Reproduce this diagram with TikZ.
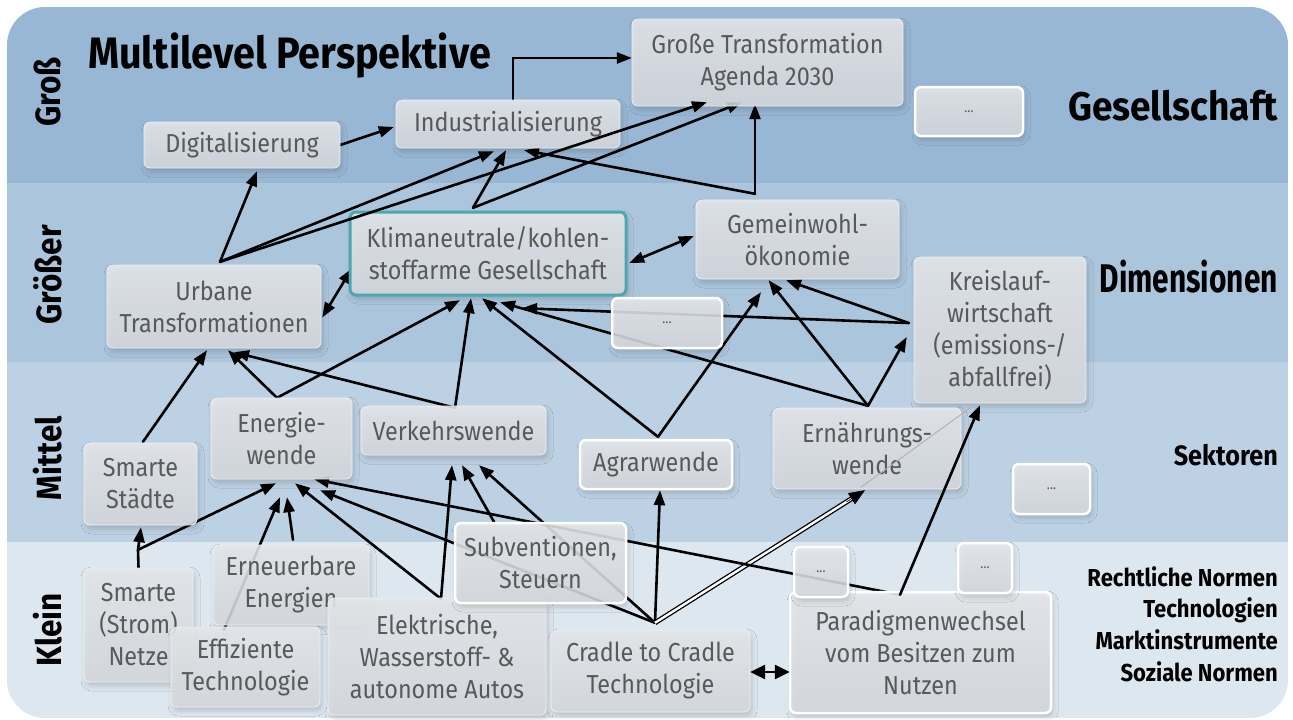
\documentclass[tikz,border=0pt]{standalone}
\usepackage{fontspec}
\usepackage{graphicx}
\setmainfont{Fira Sans}[FakeStretch=0.9]
\usetikzlibrary{arrows.meta,calc,shadows.blur}
\definecolor{bandA}{HTML}{98B7D4}
\definecolor{bandB}{HTML}{AAC5DC}
\definecolor{bandC}{HTML}{BCD1E3}
\definecolor{bandD}{HTML}{DDE7F0}
\definecolor{boxtop}{HTML}{E6E8EB}
\definecolor{boxbot}{HTML}{D6D9DE}
\definecolor{boxtext}{HTML}{595959}
\definecolor{boxline}{HTML}{EEF0F2}
\definecolor{tealb}{HTML}{4EA6AE}
\newcommand\boxfont{\fontsize{26}{32}\selectfont}
\newcommand\lblfont{\bfseries\fontsize{40}{44}\selectfont}
\newcommand\sidefont{\bfseries\fontsize{35}{40}\selectfont}
\newcommand\smallfont{\bfseries\fontsize{24.5}{31.7}\selectfont}
\begin{document}
\begin{tikzpicture}[x=1pt,y=-1pt,
  box/.style={rectangle, rounded corners=6pt, draw=boxline, line width=0.8pt,
    top color=boxtop, bottom color=boxbot, fill opacity=0.88, text opacity=1,
    text=boxtext, align=center, inner sep=0pt, font=\boxfont,
    blur shadow={shadow xshift=2pt, shadow yshift=-4pt, shadow opacity=18, shadow blur radius=5pt}},
  wbox/.style={box, draw=white, line width=2.5pt},
  tbox/.style={box, draw=tealb, line width=3pt},
  sz/.style 2 args={minimum width=#1pt, minimum height=#2pt},
  ln/.style={line width=2.6pt, line cap=round},
  tip/.tip={Triangle[length=15pt,width=11pt]},
  arr/.style={ln, -tip},
  arrb/.style={ln, tip-tip},
  lbl/.style={font=\lblfont, text=black, inner sep=0pt},
  side/.style={font=\sidefont, text=black, inner sep=0pt, rotate=90}
]
\useasboundingbox (0,0) rectangle (1293,720);
\begin{scope}
\clip[rounded corners=38pt] (7,7) rectangle (1288,718);
\fill[bandA] (7,7) rectangle (1288,183);
\fill[bandB] (7,183) rectangle (1288,362);
\fill[bandC] (7,362) rectangle (1288,542);
\fill[bandD] (7,542) rectangle (1288,718);
\end{scope}

% labels
\node[lbl, anchor=base west, font=\bfseries\fontsize{44}{48}\selectfont] (title) at (88,68) {Multilevel Perspektive};
\node[lbl, anchor=base east] (lges) at (1278,120) {\scalebox{1.03}[1]{Gesellschaft}};
\node[lbl, anchor=base east] (ldim) at (1278,292) {\scalebox{0.83}[1]{Dimensionen}};
\node[lbl, anchor=base east, font=\bfseries\fontsize{28}{32}\selectfont] (lsek) at (1278,465) {Sektoren};
\node[anchor=north east, font=\smallfont, align=right, inner sep=0pt] (lklein) at (1278,566) {Rechtliche Normen\\Technologien\\Marktinstrumente\\Soziale Normen};
\node[side] (sgross) at (48,92) {Groß};
\node[side] (sgroesser) at (48,275) {Größer};
\node[side] (smittel) at (48,458) {Mittel};
\node[side] (sklein) at (48,630) {Klein};

% node placement (invisible first, to define anchors)
\path
  (242,145) node[sz={196}{46}] (digi) {}
  (508,124) node[sz={224}{48}] (indu) {}
  (767.5,62.5) node[sz={271}{87}] (grosse) {}
  (214,306.5) node[sz={214}{83}] (urbane) {}
  (488,253.5) node[sz={276}{83}] (klima) {}
  (797.5,239.5) node[sz={203}{79}] (gemein) {}
  (1000,330) node[sz={172}{146}] (kreis) {}
  (140.5,484) node[sz={113}{82}] (staedte) {}
  (281.5,438.5) node[sz={141}{81}] (energie) {}
  (453.5,430.5) node[sz={185}{49}] (verkehr) {}
  (656,464.5) node[sz={152}{49}] (agrar) {}
  (867,448.5) node[sz={188}{81}] (ernaehr) {}
  (138.5,625) node[sz={109}{114}] (netze) {}
  (291,585) node[sz={156}{80}] (erneuer) {}
  (245.5,667) node[sz={149}{80}] (effiz) {}
  (437,656.5) node[sz={218}{117}] (elektr) {}
  (540.5,563) node[sz={171}{80}] (subv) {}
  (650.5,671) node[sz={199}{82}] (cradle) {}
  (920.5,652.5) node[sz={261}{121}] (paradigm) {};

% junction coordinates
\coordinate (jU) at ($(urbane.north)+(6,-3)$);
\coordinate (jK) at ($(klima.north)+(-15,-4)$);
\coordinate (jG) at ($(gemein.north)+(-42.5,-6)$);
\coordinate (jE) at ($(energie.north)+(-4.5,0)$);
\coordinate (jV) at ($(verkehr.north)+(1.5,2)$);
\coordinate (jA) at ($(agrar.north)+(2,-3)$);
\coordinate (jEr) at ($(ernaehr.north)+(1,-2)$);
\coordinate (jKr) at ($(kreis.west)+(-5,-7)$);
\coordinate (jS) at ($(staedte.north)+(2.5,-1)$);
\coordinate (jNz) at ($(netze.north)+(-0.5,-18)$);
\coordinate (jEf) at ($(effiz.north)+(-21.5,3)$);
\coordinate (jEn) at ($(erneuer.north)+(2,-5)$);
\coordinate (jEl) at ($(elektr.north)+(4,1)$);
\coordinate (jSu) at ($(subv.north)+(-46.5,-1)$);
\coordinate (jC) at ($(cradle.north)+(4.5,-7)$);
\coordinate (jP) at ($(paradigm.north)+(-20.5,3)$);
\coordinate (tE) at ($(ernaehr.south)+(-2,1)$);

% connectors behind boxes
\draw[arr] (digi.east) -- ($(indu.west)+(-2,3)$);
\draw[arr] ($(indu.north)+(5,0)$) |- ($(grosse.west)+(0,-4.5)$);
\draw[arr] (jU) -- ($(digi.south)+(15,3)$);
\draw[arr] (jU) -- ($(indu.south)+(-14,3)$);
\draw[arr] (jK) -- ($(indu.south)+(-2,2)$);
\draw[arr] (jK) -- ($(grosse.south)+(-25.5,-4)$);
\draw[arr] (jG) -- ($(grosse.south)+(-12.5,-2)$);
\draw[arr] (jG) -- ($(indu.south)+(16,2)$);
\draw[arrb] ($(urbane.east)+(1,11)$) -- ($(klima.west)+(2,15)$);
\draw[arrb] ($(klima.east)+(3,9.5)$) -- ($(gemein.west)+(-2,-3.5)$);
\draw[arr] (jE) -- ($(urbane.south)+(14,2)$);
\draw[arr] (jE) -- ($(klima.south)+(-28,5)$);
\draw[arr] (jV) -- ($(urbane.south)+(20,4)$);
\draw[arr] (jV) -- ($(klima.south)+(-17,3)$);
\draw[arr] (jA) -- ($(klima.south)+(-6,3)$);
\draw[arr] (jA) -- ($(gemein.south)+(-36.5,13)$);
\draw[arr] (jEr) -- ($(klima.south)+(12,7)$);
\draw[arr] (jEr) -- ($(gemein.south)+(-29,1)$);
\draw[arr] (jEr) -- ($(kreis.west)+(-7,7)$);
\draw[arr] (jKr) -- ($(gemein.south)+(-11.5,1)$);
\draw[arr] (jKr) -- ($(klima.south)+(34,13)$);
\draw[arr] (jS) -- ($(urbane.south)+(-7,2)$);
\draw[ln] (netze.north) -- (jNz);
\draw[arr] (jNz) -- ($(staedte.south)+(0.5,2)$);
\draw[arr] (jNz) -- ($(energie.south)+(-5.5,4)$);
\draw[arr] (jEf) -- ($(energie.south)+(-1.5,18)$);
\draw[arr] (jEn) -- ($(energie.south)+(5.5,18)$);
\draw[arr] (jEl) -- ($(energie.south)+(13.5,4)$);
\draw[arr] (jEl) -- ($(verkehr.south)+(-1.5,10)$);
\draw[arr] (jSu) -- ($(verkehr.south)+(8.5,10)$);
\draw[arr] (jC) -- ($(verkehr.south)+(25.5,10)$);
\draw[arr] (jC) -- ($(energie.south)+(38.5,11)$);
\draw[arr] (jC) -- ($(agrar.south)+(4,1)$);
\draw[line width=1.3pt, double, double distance=2.4pt, shorten >=12pt] (jC) -- (tE);
\draw[arr] (jP) -- ($(energie.south)+(32.5,0)$);

% boxes
\node[box, sz={196}{46}] (digiB) at (digi) {Digitalisierung};
\node[box, sz={224}{48}] (induB) at (indu) {Industrialisierung};
\node[box, sz={271}{87}] (grosseB) at (grosse) {Große Transformation\\Agenda 2030};
\node[wbox, sz={108}{49}] (dotsA) at (969,111.5) {\fontsize{14}{16}\selectfont ...};
\node[box, sz={214}{83}] (urbaneB) at (urbane) {Urbane\\Transformationen};
\node[tbox, sz={276}{83}] (klimaB) at (klima) {Klimaneutrale/kohlen-\\stoffarme Gesellschaft};
\node[box, sz={203}{79}] (gemeinB) at (gemein) {Gemeinwohl-\\ökonomie};
\node[wbox, sz={110}{50}] (dotsB) at (667,323) {\fontsize{14}{16}\selectfont ...};
\node[box, sz={172}{146}] (kreisB) at (kreis) {Kreislauf-\\wirtschaft\\(emissions-/\\abfallfrei)};
\node[box, sz={113}{82}] (staedteB) at (staedte) {Smarte\\Städte};
\node[box, sz={141}{81}] (energieB) at (energie) {Energie-\\wende};
\node[box, sz={185}{49}] (verkehrB) at (verkehr) {Verkehrswende};
\node[wbox, sz={152}{49}] (agrarB) at (agrar) {Agrarwende};
\node[box, sz={188}{81}] (ernaehrB) at (ernaehr) {Ernährungs-\\wende};
\node[wbox, sz={77}{50}] (dotsC) at (1051.5,489) {\fontsize{14}{16}\selectfont ...};
\node[box, sz={109}{114}] (netzeB) at (netze) {Smarte\\(Strom)\\Netze};
\node[box, sz={156}{80}] (erneuerB) at (erneuer) {Erneuerbare\\Energien};
\node[box, sz={149}{80}] (effizB) at (effiz) {Effiziente\\Technologie};
\node[box, sz={218}{117}] (elektrB) at (elektr) {Elektrische,\\Wasserstoff- \&\\autonome Autos};
\node[wbox, sz={171}{80}] (subvB) at (subv) {Subventionen,\\Steuern};
\node[box, sz={199}{82}] (cradleB) at (cradle) {Cradle to Cradle\\Technologie};
\node[wbox, sz={261}{121}] (paradigmB) at (paradigm) {Paradigmenwechsel\\vom Besitzen zum\\Nutzen};
\node[wbox, sz={54}{50}] (dotsD) at (821,572) {\fontsize{14}{16}\selectfont ...};
\node[wbox, sz={54}{50}] (dotsE) at (985,568) {\fontsize{14}{16}\selectfont ...};

% connectors in front of boxes
\draw[arr] (jU) -- ($(grosse.south)+(-60.5,-4)$);
\draw[arr] (jP) -- ($(kreis.south)+(-20,2)$);
\draw[line width=1pt, black!30] ($(ernaehr.south)+(-6,-2)$) -- ($(kreis.south)+(-29,4)$);
\draw[line width=0.6pt, -{Triangle[length=16pt,width=13pt]}] ($(tE)!22pt!(jC)$) -- (tE);
\draw[ln, {Triangle[length=15pt,width=14pt]}-{Triangle[length=15pt,width=14pt]}] ($(cradle.east)+(0,1)$) -- ($(paradigm.west)+(0,19.5)$);
\end{tikzpicture}
\end{document}
